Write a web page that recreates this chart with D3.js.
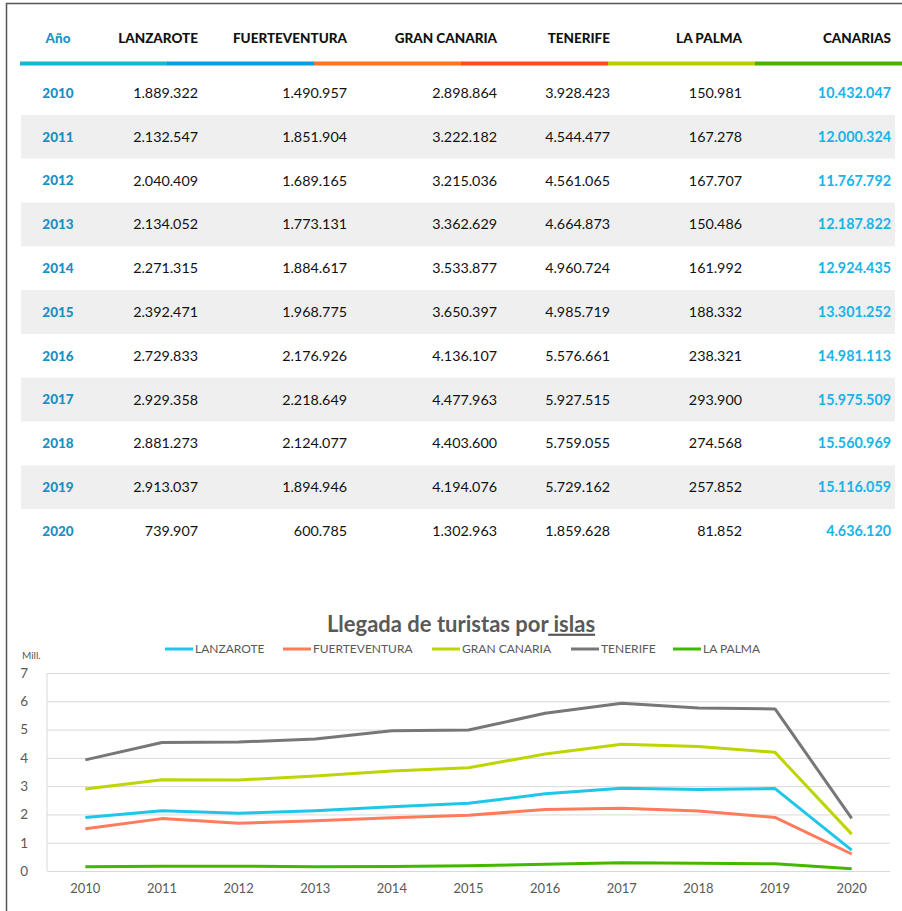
<!DOCTYPE html>
<html><head><meta charset="utf-8">
<script src="https://cdn.jsdelivr.net/npm/d3@7/dist/d3.min.js"></script>
<style>
html,body{margin:0;padding:0;background:#fff;}
svg{display:block;font-family:Lato,"Open Sans",sans-serif;}
</style></head>
<body><svg id="c" width="902" height="911"></svg>
<script>
const years = [2010,2011,2012,2013,2014,2015,2016,2017,2018,2019,2020];
const headers = ["Año","LANZAROTE","FUERTEVENTURA","GRAN CANARIA","TENERIFE","LA PALMA","CANARIAS"];
const lanzarote = [1889322,2132547,2040409,2134052,2271315,2392471,2729833,2929358,2881273,2913037,739907];
const fuerteventura = [1490957,1851904,1689165,1773131,1884617,1968775,2176926,2218649,2124077,1894946,600785];
const granCanaria = [2898864,3222182,3215036,3362629,3533877,3650397,4136107,4477963,4403600,4194076,1302963];
const tenerife = [3928423,4544477,4561065,4664873,4960724,4985719,5576661,5927515,5759055,5729162,1859628];
const laPalma = [150981,167278,167707,150486,161992,188332,238321,293900,274568,257852,81852];
const canarias = [10432047,12000324,11767792,12187822,12924435,13301252,14981113,15975509,15560969,15116059,4636120];
const seriesNames = ["LANZAROTE","FUERTEVENTURA","GRAN CANARIA","TENERIFE","LA PALMA"];
const yTicks = [0,1,2,3,4,5,6,7];
const chartTitle = "Llegada de turistas por";
const chartTitleU = " islas";
const unitLabel = "Mill.";

const svg = d3.select("#c");
const fmt = v => d3.format(",")(v).replace(/,/g,".");

// frame
svg.append("path").attr("d","M6.5,911 V3.5 H902").attr("fill","none").attr("stroke","#555").attr("stroke-width",1.5);

// ---- table ----
const colX = [58,198,347,497,610,742,891]; // column anchors
const segColors = ["#17b4d4","#0aa0de","#ff7325","#ff4b1f","#bccc00","#4cb000"];
const seg = d3.scaleBand().domain(d3.range(6)).range([20,902]).paddingInner(0);
svg.selectAll("rect.seg").data(segColors).join("rect")
  .attr("x",(d,i)=>seg(i)).attr("width",seg.bandwidth()+0.5).attr("y",61.5).attr("height",4).attr("fill",d=>d);

svg.selectAll("text.hdr").data(headers).join("text")
  .attr("x",(d,i)=>colX[i]).attr("y",38).attr("dy","0.35em")
  .attr("text-anchor",(d,i)=>i===0?"middle":"end")
  .attr("font-weight",900).attr("font-size",13.5)
  .attr("fill",(d,i)=>i===0?"#1a93c2":"#111").text(d=>d);

const row = d3.scaleBand().domain(years).range([71.1,552.9]);
svg.selectAll("rect.shade").data(years.filter((d,i)=>i%2===1)).join("rect")
  .attr("x",21).attr("width",874).attr("y",d=>row(d)).attr("height",row.bandwidth()).attr("fill","#efefef");

const cols = [lanzarote,fuerteventura,granCanaria,tenerife,laPalma,canarias];
years.forEach((yr,i)=>{
  const cy = row(yr)+row.bandwidth()/2;
  svg.append("text").attr("x",colX[0]).attr("y",cy).attr("dy","0.35em").attr("text-anchor","middle")
    .attr("font-weight",900).attr("font-size",13.5).attr("fill","#1a8fc0").text(yr);
  cols.forEach((c,j)=>{
    svg.append("text").attr("x",colX[j+1]).attr("y",cy).attr("dy","0.35em").attr("text-anchor","end")
      .attr("font-size",14.3).attr("font-weight",j===5?700:400)
      .attr("fill",j===5?"#1ab3e6":"#111").text(fmt(c[i]));
  });
});

// ---- chart ----
const x = d3.scaleBand().domain(years).range([47,890]);
const y = d3.scaleLinear().domain([0,7]).range([871,673]);
const lineColors = ["#1ec6e8","#ff7b5c","#bdd500","#777777","#43b800"];
const series = [lanzarote,fuerteventura,granCanaria,tenerife,laPalma];

svg.append("text").attr("x",461).attr("y",624).attr("dy","0.35em").attr("text-anchor","middle")
  .attr("font-weight",700).attr("font-size",22).attr("fill","#595959")
  .text(chartTitle).append("tspan").attr("text-decoration","underline").text(chartTitleU);

// grid
const yAxis = svg.append("g").attr("transform","translate(47,0)")
  .call(d3.axisLeft(y).tickValues(yTicks).tickSize(-843).tickFormat(d3.format("d")));
yAxis.select(".domain").remove();
yAxis.selectAll(".tick line").attr("stroke","#d9d9d9").attr("stroke-width",1);
yAxis.selectAll(".tick text").attr("x",-19).attr("font-size",13.5).attr("fill","#595959").attr("font-family","Lato,sans-serif");
svg.append("line").attr("x1",47).attr("x2",47).attr("y1",y(7)).attr("y2",y(0)).attr("stroke","#d9d9d9");

const xAxis = svg.append("g").attr("transform",`translate(0,${y(0)})`)
  .call(d3.axisBottom(x).tickSize(0).tickPadding(13));
xAxis.select(".domain").remove();
xAxis.selectAll(".tick text").attr("font-size",13).attr("fill","#595959").attr("font-family","Lato,sans-serif");

svg.append("text").attr("x",22).attr("y",655).attr("dy","0.35em").attr("font-size",10).attr("fill","#595959").text(unitLabel);

const line = d3.line().x((d,i)=>x(years[i])+x.bandwidth()/2).y(d=>y(d/1e6));
series.forEach((s,k)=>{
  svg.append("path").datum(s).attr("d",line).attr("fill","none")
    .attr("stroke",lineColors[k]).attr("stroke-width",3).attr("stroke-linejoin","round");
});

// legend
const legX = [165,283,432,571,673];
seriesNames.forEach((n,k)=>{
  const g = svg.append("g").attr("transform",`translate(${legX[k]},649)`);
  g.append("line").attr("x1",0).attr("x2",28).attr("stroke",lineColors[k]).attr("stroke-width",3);
  g.append("text").attr("x",30).attr("dy","0.35em").attr("font-size",12).attr("fill","#595959").text(n);
});
</script></body></html>
